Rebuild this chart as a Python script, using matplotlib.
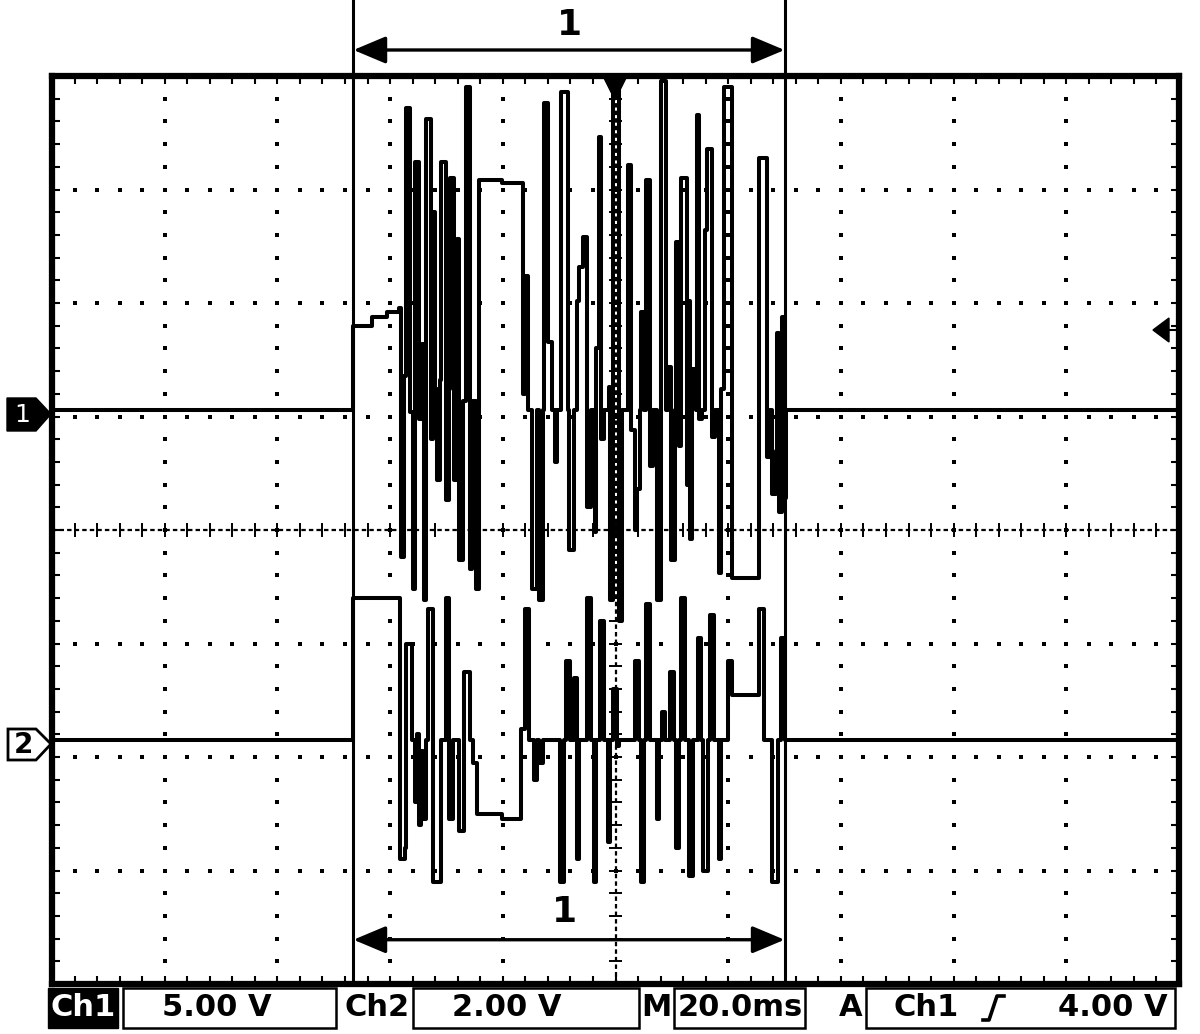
import numpy as np
import matplotlib
matplotlib.use('Agg')
from matplotlib import pyplot as plt
from matplotlib.patches import Polygon, Rectangle

# ---- scope settings ----
ch1_scale = 5.0      # V/div
ch2_scale = 2.0      # V/div
time_scale = 20.0    # ms/div
ch1_offset = 1.06    # div, ground marker of Ch1
ch2_offset = -1.85   # div, ground marker of Ch2
cursor_t = [53.5, 130.0]   # ms, time cursors "1"

# ---- traces (ms from left edge, volts) ----
ch1_t = [0.0, 53.5, 56.7, 59.4, 61.5, 61.9, 62.4, 62.8, 63.5, 64.0,
         64.5, 65.2, 65.6, 66.0, 66.3, 67.2, 67.6, 67.9, 68.4, 68.8,
         69.1, 69.9, 70.4, 70.7, 71.3, 71.8, 72.3, 72.9, 73.4, 74.1,
         74.6, 75.2, 75.7, 79.8, 83.5, 84.0, 84.4, 85.1, 86.0, 86.5,
         87.1, 87.4, 88.1, 88.7, 89.2, 89.7, 90.4, 91.5, 91.8, 92.6,
         93.1, 93.6, 94.3, 95.0, 95.7, 96.3, 96.6, 97.0, 97.5, 98.0,
         98.8, 99.1, 99.5, 100.7, 101.2, 102.3, 102.8, 103.4, 103.9, 104.3,
         104.6, 105.1, 105.5, 106.2, 106.7, 107.3, 108.0, 108.9, 109.4, 109.9,
         110.5, 110.8, 111.3, 111.7, 112.6, 112.9, 113.3, 113.6, 114.2, 114.4,
         114.9, 115.4, 115.8, 116.3, 117.2, 117.7, 118.3, 118.8, 119.3, 120.7,
         125.4, 126.9, 127.5, 127.8, 128.4, 128.7, 129.1, 129.6, 130.0, 130.3, 200.0]
ch1_v = [0.0, 3.7, 4.1, 4.3, 4.5, -6.5, 1.5, 13.3, -0.1, -7.9,
         10.9, -0.4, 2.9, -8.4, 12.8, -1.3, 8.7, 0.9, -3.1, 1.3,
         10.9, -4.0, 0.9, 10.2, -3.1, 7.5, -6.6, 0.4, 14.2, -7.0,
         0.4, -7.9, 10.1, 10.0, 0.7, 5.9, 0.0, -7.9, 0.0, -8.4,
         0.0, 13.5, 3.0, 0.0, -2.3, 0.0, 14.0, 0.0, -6.2, 0.0,
         4.8, 6.3, 7.6, -4.3, 0.0, -5.4, 2.7, 12.0, -1.3, 0.0,
         1.0, -8.4, 14.4, -9.3, 0.0, 10.8, -0.9, -5.3, -3.5, 0.0,
         4.3, 0.0, 10.1, -2.5, 0.0, -8.4, 14.5, 0.0, 1.9, -6.6,
         0.0, 7.4, -1.6, 10.2, -3.3, 4.8, -5.7, 1.8, 0.0, 13.0,
         -0.4, 0.0, 7.9, 11.5, -1.2, 0.0, -7.2, 0.9, 14.2, -7.4,
         11.1, -2.1, 0.0, -3.7, -1.8, 3.4, -4.5, 4.1, -3.9, 0.0, 0.0]

ch2_t = [0.0, 53.5, 61.7, 62.6, 62.9, 63.8, 64.4, 64.7, 65.1, 65.4,
         65.8, 66.3, 66.8, 67.7, 69.1, 69.9, 70.4, 71.1, 72.3, 73.2,
         74.1, 74.8, 75.5, 79.8, 83.3, 84.0, 84.7, 85.5, 86.0, 86.5,
         87.1, 90.1, 90.8, 91.3, 92.0, 92.6, 93.1, 93.6, 94.9, 95.6,
         96.1, 96.6, 97.2, 97.9, 98.6, 99.1, 99.6, 100.2, 100.7, 103.4,
         104.1, 104.6, 105.1, 105.5, 106.2, 107.3, 107.8, 108.2, 108.7, 109.6,
         110.3, 110.8, 111.3, 111.7, 112.4, 113.1, 113.8, 114.7, 115.1, 115.6,
         116.5, 116.7, 117.4, 118.3, 118.8, 120.0, 120.6, 125.4, 126.4, 127.7,
         128.9, 129.4, 130.0, 200.0]
ch2_v = [0.0, 2.5, -2.1, -1.9, 1.7, 0.0, -1.1, 0.1, -1.5, -0.2,
         -1.4, 0.0, 2.3, -2.5, 0.0, 2.5, -1.4, 0.0, -1.6, 1.2,
         0.0, -0.4, -1.3, -1.4, 0.2, 2.3, 0.0, -0.7, 0.0, -0.4,
         0.0, -2.5, 0.0, 1.4, 0.0, 1.1, -2.1, 0.0, 2.5, 0.0,
         -2.5, 0.0, 2.1, 0.0, -1.8, 0.0, 0.9, -0.1, 0.0, 1.4,
         0.0, -2.5, 0.0, 2.4, 0.0, -1.4, 0.0, 0.5, 0.0, 1.2,
         0.0, -1.9, 0.0, 2.5, 0.0, -2.4, 0.0, 1.8, 0.0, -2.3,
         0.0, 2.2, 0.0, -2.1, 0.0, 1.4, 0.8, 2.3, 0.0, -2.5,
         0.0, 1.8, 0.0, 0.0]

# status bar texts
status_labels = ['Ch1', '5.00 V', 'Ch2', '2.00 V', 'M', '20.0ms', 'A', 'Ch1', '4.00 V']

W, H = 1200, 1034
fig = plt.figure(figsize=(W / 100, H / 100), dpi=100)
fig.patch.set_facecolor('white')

# graticule area in pixels
gx0, gx1, gy0, gy1 = 52, 1179, 76, 984
ax = fig.add_axes([gx0 / W, 1 - gy1 / H, (gx1 - gx0) / W, (gy1 - gy0) / H], zorder=1)
ax.set_xlim(0, 10)
ax.set_ylim(-4, 4)
for s in ax.spines.values():
    s.set_linewidth(4.5)
ax.set_xticks(np.arange(0, 10.01, 1))
ax.set_yticks(np.arange(-4, 4.01, 1))
ax.set_xticks(np.arange(0, 10.01, 0.2), minor=True)
ax.set_yticks(np.arange(-4, 4.01, 0.2), minor=True)
ax.tick_params(which='both', direction='in', length=6, width=1.5,
               top=True, right=True, labelbottom=False, labelleft=False)

# dotted grid
fine_x = np.arange(0, 10.01, 0.2)
fine_y = np.arange(-4, 4.01, 0.2)
for k in [1, 2, 3, 4, 6, 7, 8, 9]:
    ax.plot(np.full(len(fine_y), k), fine_y, 's', ms=2.4, mew=0, color='k', zorder=1)
for k in [-3, -2, -1, 1, 2, 3]:
    ax.plot(fine_x, np.full(len(fine_x), k), 's', ms=2.4, mew=0, color='k', zorder=1)
# center cross with tick marks
ax.axhline(0, ls=(0, (2, 1.4)), lw=1.6, color='k', zorder=1)
ax.axvline(5, ls=(0, (2, 1.4)), lw=1.6, color='k', zorder=1)
ax.vlines(fine_x, -0.06, 0.06, lw=1.4, color='k', zorder=1)
ax.hlines(fine_y, 4.94, 5.06, lw=1.4, color='k', zorder=1)

# traces
x1 = np.array(ch1_t) / time_scale
y1 = ch1_offset + np.array(ch1_v) / ch1_scale
x2 = np.array(ch2_t) / time_scale
y2 = ch2_offset + np.array(ch2_v) / ch2_scale
ax.plot(x1, y1, drawstyle='steps-post', lw=2.9, color='k', zorder=3)
ax.plot(x2, y2, drawstyle='steps-post', lw=2.9, color='k', zorder=3)

# time cursors
c0, c1 = cursor_t[0] / time_scale, cursor_t[1] / time_scale
top_frac = gy1 / (gy1 - gy0)
for c in (c0, c1):
    ax.axvline(c, 0, top_frac, lw=2.2, color='k', clip_on=False, zorder=4)
arrow = dict(arrowstyle='<|-|>,head_length=1.0,head_width=0.42', mutation_scale=20,
             lw=2.4, color='k', shrinkA=0, shrinkB=0)
ax.annotate('', xy=(c1, (gy1 - 50) / (gy1 - gy0)), xytext=(c0, (gy1 - 50) / (gy1 - gy0)),
            xycoords=('data', 'axes fraction'), arrowprops=arrow, annotation_clip=False)
ax.annotate('', xy=(c1, -3.61), xytext=(c0, -3.61), arrowprops=arrow, annotation_clip=False)
ax.text((c0 + c1) / 2, (gy1 - 25) / (gy1 - gy0), '1', transform=ax.get_xaxis_transform(),
        ha='center', va='center', fontsize=26, fontweight='bold', clip_on=False)
ax.text((c0 + c1) / 2 - 0.04, -3.37, '1', ha='center', va='center', fontsize=26,
        fontweight='bold')

# overlay in pixel coordinates for markers and status bar
ov = fig.add_axes([0, 0, 1, 1], zorder=3)
ov.set_xlim(0, W)
ov.set_ylim(H, 0)
ov.axis('off')
ov.patch.set_alpha(0)

# channel ground markers
ov.add_patch(Polygon([(7, 398), (36, 398), (51, 414), (36, 431), (7, 431)], closed=True,
                     fc='k', ec='k', lw=1))
ov.text(22, 415, '1', color='white', ha='center', va='center', fontsize=18)
ov.add_patch(Polygon([(8, 729), (36, 729), (51, 744), (36, 760), (8, 760)], closed=True,
                     fc='white', ec='k', lw=2))
ov.text(23, 745, '2', color='k', ha='center', va='center', fontsize=20, fontweight='bold')

# trigger level and trigger position markers
ov.add_patch(Polygon([(1153, 330), (1169, 318), (1169, 342)], closed=True, fc='k', ec='k'))
ov.plot([1169, 1178], [330, 330], lw=1.5, color='k')
ov.add_patch(Polygon([(604, 78), (626, 78), (615, 100)], closed=True, fc='k', ec='k'))

# status bar
by, bh = 988, 40
ov.add_patch(Rectangle((48, by), 70, bh, fc='k', ec='k'))
for bx, bw in [(123, 213), (413, 226), (674, 131), (866, 309)]:
    ov.add_patch(Rectangle((bx, by), bw, bh, fill=False, ec='k', lw=1.8))
fs = dict(fontsize=22, fontweight='bold', va='center', ha='center')
ty = 1008
ov.text(83, ty, status_labels[0], color='white', **fs)
ov.text(217, ty, status_labels[1], **fs)
ov.text(377, ty, status_labels[2], **fs)
ov.text(507, ty, status_labels[3], **fs)
ov.text(656, ty, status_labels[4], **fs)
ov.text(740, ty, status_labels[5], **fs)
ov.text(851, ty, status_labels[6], **fs)
ov.text(926, ty, status_labels[7], **fs)
ov.text(1113, ty, status_labels[8], **fs)
ov.plot([983, 989, 997, 1004], [1020, 1020, 996, 996], lw=2.6, color='k')

fig.savefig('out.png', dpi=100, facecolor='white')
